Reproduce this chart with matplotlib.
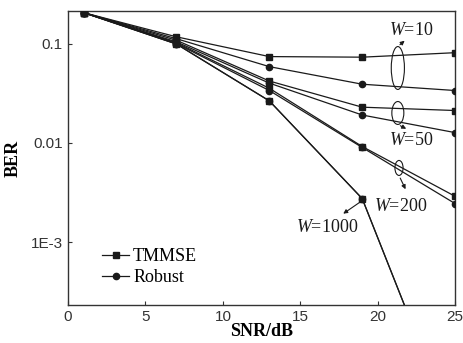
import matplotlib
matplotlib.use("Agg")
import matplotlib.pyplot as plt
from matplotlib.patches import Ellipse

plt.rcParams["mathtext.fontset"] = "custom"
plt.rcParams["mathtext.it"] = "Liberation Serif:italic"
plt.rcParams["mathtext.rm"] = "Liberation Serif"

snr = [1, 7, 13, 19, 25]
tmmse_w10 = [0.205, 0.117, 0.074, 0.073, 0.081]
robust_w10 = [0.205, 0.112, 0.0586, 0.039, 0.0337]
tmmse_w50 = [0.205, 0.108, 0.042, 0.0229, 0.0212]
robust_w50 = [0.205, 0.104, 0.040, 0.0191, 0.0127]
tmmse_w200 = [0.205, 0.102, 0.0355, 0.0092, 0.0029]
robust_w200 = [0.205, 0.100, 0.0337, 0.0090, 0.00245]
tmmse_w1000 = [0.205, 0.099, 0.0265, 0.00275, 1.2e-5]
robust_w1000 = [0.205, 0.099, 0.0265, 0.00275, 1.2e-5]

xticks = [0, 5, 10, 15, 20, 25]
yticks = [0.1, 0.01, 1e-3]
ytick_labels = ["0.1", "0.01", "1E-3"]

fig = plt.figure(figsize=(4.63, 3.43), dpi=100)
ax = fig.add_axes([0.147, 0.111, 0.836, 0.857])

col = "#1a1a1a"

tm = [tmmse_w10, tmmse_w50, tmmse_w200, tmmse_w1000]
rb = [robust_w10, robust_w50, robust_w200, robust_w1000]
for i, (t, r) in enumerate(zip(tm, rb)):
    ax.plot(snr, t, color=col, lw=0.9, marker="s", ms=4.2, mfc=col, mec=col,
            label="TMMSE" if i == 0 else None, zorder=3)
    ax.plot(snr, r, color=col, lw=0.9, marker="o", ms=4.5, mfc=col, mec=col,
            label="Robust" if i == 0 else None, zorder=3)

ax.set_yscale("log")
ax.set_xlim(0, 25)
ax.set_ylim(2.34e-4, 0.213)
ax.set_xticks(xticks)
ax.set_xticklabels([str(v) for v in xticks], family="Liberation Sans", fontsize=11, color="#333")
ax.set_yticks(yticks)
ax.set_yticklabels(ytick_labels, family="Liberation Sans", fontsize=11, color="#333")
ax.minorticks_off()
ax.tick_params(direction="in", length=3, width=0.8, colors="#333", pad=4)
for s in ax.spines.values():
    s.set_color("#333")
    s.set_linewidth(1.0)

ax.set_xlabel("SNR/dB", family="Liberation Serif", fontweight="bold", fontsize=13, labelpad=-1)
ax.set_ylabel("BER", family="Liberation Serif", fontweight="bold", fontsize=13, labelpad=6)

leg = ax.legend(loc="lower left", bbox_to_anchor=(0.07, 0.04), frameon=False,
                prop={"family": "Liberation Serif", "size": 13}, handlelength=1.5,
                handletextpad=0.2, labelspacing=0.2, borderaxespad=0)

# ellipses and annotations (axes fraction)
ell_kw = dict(transform=ax.transAxes, fill=False, ec=col, lw=0.8, zorder=4)
ax.add_patch(Ellipse((0.852, 0.806), 0.034, 0.146, **ell_kw))
ax.add_patch(Ellipse((0.852, 0.653), 0.031, 0.078, **ell_kw))
ax.add_patch(Ellipse((0.855, 0.466), 0.021, 0.051, **ell_kw))

tkw = dict(transform=ax.transAxes, fontsize=13, color=col, zorder=5)
ax.text(0.83, 0.935, "$W$=10", ha="left", va="center", family="Liberation Serif", **tkw)
ax.text(0.83, 0.560, "$W$=50", ha="left", va="center", family="Liberation Serif", **tkw)
ax.text(0.79, 0.335, "$W$=200", ha="left", va="center", family="Liberation Serif", **tkw)
ax.text(0.59, 0.264, "$W$=1000", ha="left", va="center", family="Liberation Serif", **tkw)

akw = dict(arrowstyle="-|>", color=col, lw=0.8, mutation_scale=6)
ax.annotate("", xy=(0.875, 0.905), xytext=(0.852, 0.879), xycoords="axes fraction",
            arrowprops=akw)
ax.annotate("", xy=(0.88, 0.595), xytext=(0.852, 0.614), xycoords="axes fraction",
            arrowprops=akw)
ax.annotate("", xy=(0.875, 0.385), xytext=(0.855, 0.44), xycoords="axes fraction",
            arrowprops=akw)
ax.annotate("", xy=(0.705, 0.305), xytext=(0.76, 0.355), xycoords="axes fraction",
            arrowprops=akw)

fig.savefig("out.png", dpi=100)
